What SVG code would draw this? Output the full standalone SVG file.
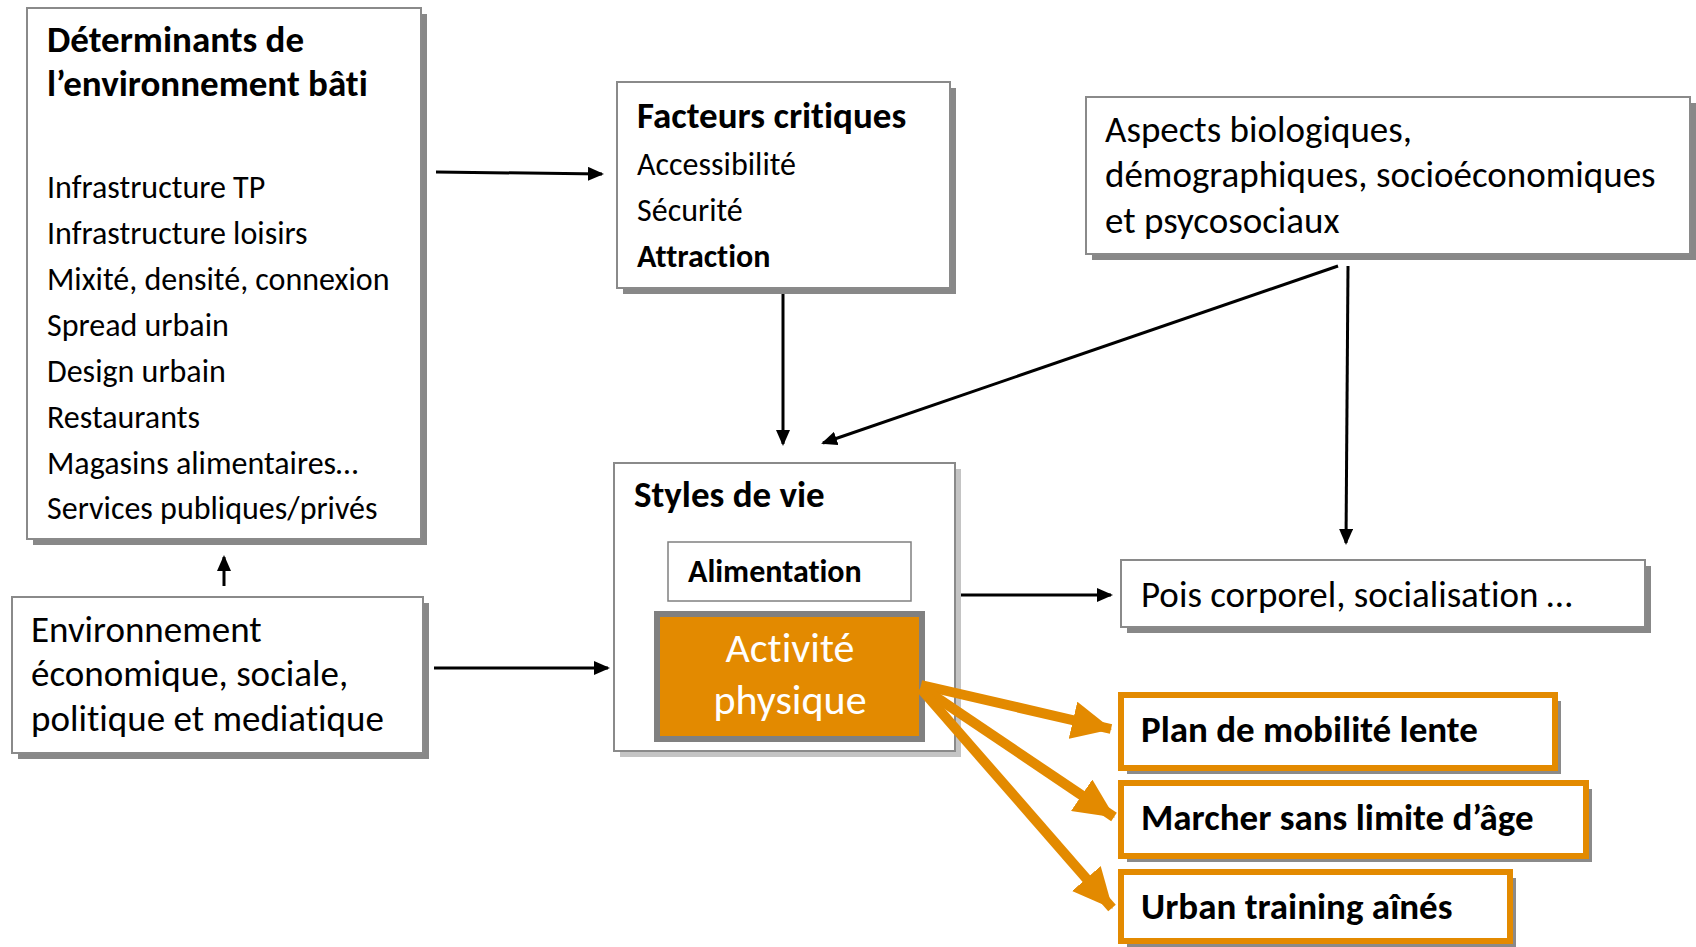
<svg xmlns="http://www.w3.org/2000/svg" width="1696" height="947" viewBox="0 0 1696 947">
<defs>
<style>
text{font-family:Carlito,Lato,"Open Sans",sans-serif;fill:#000;font-variant-ligatures:none}
.b{font-weight:bold}
.t32{font-size:32px}
.t37{font-size:37px}
.box{fill:#fff;stroke:#8a8a8a;stroke-width:2}
.sh{fill:#888}
.osh{fill:#8a8a8a}
.obox{fill:#fff;stroke:#E38A00;stroke-width:6}
.ln{stroke:#000;stroke-width:3;fill:none}
.oln{stroke:#E38A00;stroke-width:10;fill:none}
</style>
<marker id="ah" markerUnits="userSpaceOnUse" markerWidth="16" markerHeight="14" refX="14" refY="7" orient="auto">
<path d="M0,0 L16,7 L0,14 Z" fill="#000"/>
</marker>
<marker id="oh" markerUnits="userSpaceOnUse" markerWidth="40" markerHeight="38" refX="39" refY="19" orient="auto">
<path d="M0,0 L40,19 L0,38 Z" fill="#E38A00"/>
</marker>
</defs>
<rect width="1696" height="947" fill="#fff"/>

<g id="connectors">
<line class="ln" x1="436" y1="172" x2="602" y2="174" marker-end="url(#ah)"/>
<line class="ln" x1="783" y1="294" x2="783" y2="444" marker-end="url(#ah)"/>
<line class="ln" x1="1338" y1="266" x2="823" y2="443" marker-end="url(#ah)"/>
<line class="ln" x1="1348" y1="266" x2="1346" y2="543" marker-end="url(#ah)"/>
<line class="ln" x1="224" y1="586" x2="224" y2="557" marker-end="url(#ah)"/>
<line class="ln" x1="434" y1="668" x2="608" y2="668" marker-end="url(#ah)"/>
<line class="ln" x1="961" y1="595" x2="1111" y2="595" marker-end="url(#ah)"/>
</g>

<g id="n-determinants">
<rect class="sh" x="33" y="14" width="394" height="531"/>
<rect class="box" x="27" y="8" width="394" height="531"/>
<text class="b t37" x="47" y="52">Déterminants de</text>
<text class="b t37" x="47" y="96">l’environnement bâti</text>
<text class="t32" x="47" y="198">Infrastructure TP</text>
<text class="t32" x="47" y="244">Infrastructure loisirs</text>
<text class="t32" x="47" y="290">Mixité, densité, connexion</text>
<text class="t32" x="47" y="336">Spread urbain</text>
<text class="t32" x="47" y="382">Design urbain</text>
<text class="t32" x="47" y="428">Restaurants</text>
<text class="t32" x="47" y="474">Magasins alimentaires…</text>
<text class="t32" x="47" y="519">Services publiques/privés</text>
</g>

<g id="n-facteurs">
<rect class="sh" x="623" y="88" width="333" height="206"/>
<rect class="box" x="617" y="82" width="333" height="206"/>
<text class="b t37" x="637" y="128">Facteurs critiques</text>
<text class="t32" x="637" y="175">Accessibilité</text>
<text class="t32" x="637" y="221">Sécurité</text>
<text class="b t32" x="637" y="267">Attraction</text>
</g>

<g id="n-aspects">
<rect class="sh" x="1092" y="103" width="604" height="157"/>
<rect class="box" x="1086" y="97" width="604" height="157"/>
<text class="t37" x="1105" y="142">Aspects biologiques,</text>
<text class="t37" x="1105" y="187">démographiques, socioéconomiques</text>
<text class="t37" x="1105" y="233">et psycosociaux</text>
</g>

<g id="n-environnement">
<rect class="sh" x="18" y="603" width="411" height="156"/>
<rect class="box" x="12" y="597" width="411" height="156"/>
<text class="t37" x="31" y="642">Environnement</text>
<text class="t37" x="31" y="686">économique, sociale,</text>
<text class="t37" x="31" y="731">politique et mediatique</text>
</g>

<g id="n-styles">
<rect x="620" y="469" width="341" height="288" fill="#c4c4c4"/>
<rect class="box" x="614" y="463" width="341" height="288"/>
<text class="b t37" x="634" y="507">Styles de vie</text>
</g>

<g id="n-alimentation">
<rect x="668" y="542" width="243" height="59" fill="#fff" stroke="#808080" stroke-width="1.5"/>
<text class="b t32" x="688" y="582">Alimentation</text>
</g>

<g id="n-activite">
<rect x="657" y="614" width="265" height="125" fill="#E38A00" stroke="#808080" stroke-width="6"/>
<text x="790" y="662" text-anchor="middle" style="font-size:42px;fill:#fff">Activité</text>
<text x="790" y="714" text-anchor="middle" style="font-size:42px;fill:#fff">physique</text>
</g>

<g id="n-pois">
<rect class="sh" x="1127" y="566" width="524" height="67"/>
<rect class="box" x="1121" y="560" width="524" height="67"/>
<text class="t37" x="1141" y="607">Pois corporel, socialisation …</text>
</g>

<g id="n-plan">
<rect class="osh" x="1127" y="701" width="434" height="73"/>
<rect class="obox" x="1121" y="695" width="434" height="73"/>
<text class="b t37" x="1141" y="742">Plan de mobilité lente</text>
</g>

<g id="n-marcher">
<rect class="osh" x="1127" y="789" width="465" height="73"/>
<rect class="obox" x="1121" y="783" width="465" height="73"/>
<text class="b t37" x="1141" y="830">Marcher sans limite d’âge</text>
</g>

<g id="n-urban">
<rect class="osh" x="1127" y="878" width="389" height="69"/>
<rect class="obox" x="1121" y="872" width="389" height="69"/>
<text class="b t37" x="1141" y="919">Urban training aînés</text>
</g>

<g id="orange-connectors">
<line class="oln" x1="921" y1="685" x2="1111" y2="729" marker-end="url(#oh)"/>
<line class="oln" x1="921" y1="687" x2="1114" y2="817" marker-end="url(#oh)"/>
<line class="oln" x1="921" y1="689" x2="1112" y2="908" marker-end="url(#oh)"/>
</g>
</svg>
